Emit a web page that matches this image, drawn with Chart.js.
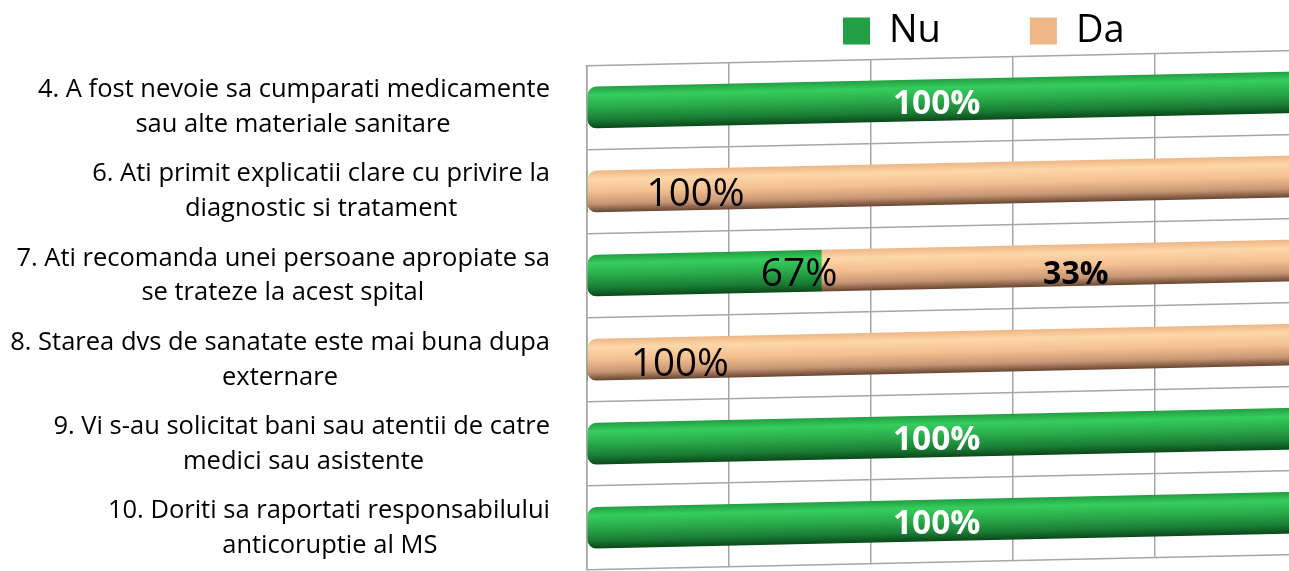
<!DOCTYPE html>
<html>
<head>
<meta charset="utf-8">
<script src="https://cdn.jsdelivr.net/npm/chart.js@4.4.1/dist/chart.umd.min.js"></script>
<style>
  html, body { margin: 0; padding: 0; background: #ffffff; overflow: hidden; }
  #wrap { position: relative; width: 1289px; height: 571px; overflow: hidden; }
  canvas { display: block; }
</style>
</head>
<body>
<div id="wrap"><canvas id="chart" width="1297" height="571"></canvas></div>
<script>
// ---------- data ----------
const categories = [
  ["4. A fost nevoie sa cumparati medicamente", "sau alte materiale sanitare"],
  ["6. Ati primit explicatii clare cu privire la", "diagnostic si tratament"],
  ["7. Ati recomanda unei persoane apropiate sa", "se trateze la acest spital"],
  ["8. Starea dvs de sanatate este mai buna dupa", "externare"],
  ["9. Vi s-au solicitat bani sau atentii de catre", "medici sau asistente"],
  ["10. Doriti sa raportati responsabilului", "anticoruptie al MS"]
];
const seriesNames = ["Nu", "Da"];
const nuValues = [100, 0, 33, 0, 100, 100];
const daValues = [0, 100, 67, 100, 0, 0];
const nuLabels = ["100%", "", "67%", "", "100%", "100%"];
const daLabels = ["", "100%", "33%", "100%", "", ""];
const xTicks = [0, 20, 40, 60, 80, 100];

// ---------- styling ----------
const FONT = "'Open Sans'";
const GRID = "#a6a6a6";
const BAR_T = 41;
const Y_FONT_SIZE = 25.5;
const SKEW = -0.0215;           // 3-D perspective tilt of the plot
const greenStops = [[0, "#23a043"], [0.2, "#36cd5e"], [0.5, "#29aa49"], [0.8, "#1a7d35"], [1, "#0b4a1a"]];
const peachStops = [[0, "#efb786"], [0.2, "#fdd7a8"], [0.5, "#f4c090"], [0.8, "#c89674"], [1, "#6a4833"]];

// center the lines of each multi-line y label within its own block
const mctx = document.createElement("canvas").getContext("2d");
mctx.font = Y_FONT_SIZE + "px " + FONT;
const spW = mctx.measureText(" ").width;
const yLabels = categories.map(lines => {
  const w0 = Math.max(...lines.map(l => mctx.measureText(l).width));
  return lines.map(l => l + " ".repeat(Math.round((w0 - mctx.measureText(l).width) / 2 / spW)));
});

function cylinder(stops, solid) {
  return function (c) {
    const chart = c.chart;
    if (c.dataIndex === undefined || !chart.chartArea || !chart.scales.y) return solid;
    const yc = chart.scales.y.getPixelForValue(c.dataIndex);
    const g = chart.ctx.createLinearGradient(0, yc - BAR_T / 2, 0, yc + BAR_T / 2);
    stops.forEach(s => g.addColorStop(s[0], s[1]));
    return g;
  };
}
const leftRound = { topLeft: 9, bottomLeft: 9, topRight: 0, bottomRight: 0 };

const labelLayout = [
  [
    { color: "#fff", weight: "bold", size: 33.5, at: 0.492, dy: 2.5 },
    null,
    { color: "#000", weight: "normal", size: 39, at: 0.905, dy: 1 },
    null,
    { color: "#fff", weight: "bold", size: 33.5, at: 0.492, dy: 1.5 },
    { color: "#fff", weight: "bold", size: 33.5, at: 0.492, dy: 1.5 }
  ],
  [
    null,
    { color: "#000", weight: "normal", size: 38.5, at: 0.152, dy: 2.5 },
    { color: "#000", weight: "bold", size: 32, at: 0.535, dy: 7 },
    { color: "#000", weight: "normal", size: 38.5, at: 0.13, dy: 4 },
    null,
    null
  ]
];
const labelTexts = [nuLabels, daLabels];

// tilt grid + bars, then draw value labels upright
const perspective = {
  id: "perspective",
  beforeLayout(chart) {
    if (chart.legend) {
      chart.legend._layers = () => [{ z: 5, draw: ca => chart.legend.draw(ca) }];
    }
  },
  afterLayout(chart) {
    if (chart.legend) {
      chart.legend.left = 833;
      chart.legend.top = 2;
    }
  },
  beforeDraw(chart) {
    const ctx = chart.ctx;
    ctx.save();
    ctx.transform(1, SKEW, 0, 1, 0, -SKEW * chart.chartArea.left);
  },
  afterDatasetsDraw(chart) {
    const ctx = chart.ctx;
    ctx.restore();
    const x0 = chart.chartArea.left;
    labelTexts.forEach((texts, di) => {
      const meta = chart.getDatasetMeta(di);
      meta.data.forEach((bar, i) => {
        const t = texts[i], st = labelLayout[di][i];
        if (!t || !st) return;
        const p = bar.getProps(["x", "base", "y"], true);
        const px = p.base + (p.x - p.base) * st.at;
        const py = p.y + SKEW * (px - x0) + st.dy;
        ctx.save();
        ctx.font = st.weight + " " + st.size + "px " + FONT;
        ctx.fillStyle = st.color;
        ctx.textAlign = "center";
        ctx.textBaseline = "alphabetic";
        ctx.fillText(t, px, py + 0.357 * st.size);
        ctx.restore();
      });
    });
  }
};

const LEGEND_X = 843;
const LEG_FONT = 38;
mctx.font = LEG_FONT + "px " + FONT;
const legSp = Math.max(0, Math.round((1030 - LEGEND_X - 27 - LEG_FONT / 2 - mctx.measureText(seriesNames[0]).width - 10) / mctx.measureText(" ").width));

Chart.defaults.font.family = FONT;
Chart.defaults.color = "#000";

new Chart(document.getElementById("chart"), {
  type: "bar",
  data: {
    labels: categories,
    datasets: [
      {
        label: seriesNames[0],
        data: nuValues,
        backgroundColor: cylinder(greenStops, "#22b14c"),
        borderWidth: 0,
        borderSkipped: false,
        borderRadius: leftRound,
        barThickness: BAR_T
      },
      {
        label: seriesNames[1],
        data: daValues,
        backgroundColor: cylinder(peachStops, "#f8c291"),
        borderWidth: 0,
        borderSkipped: false,
        borderRadius: c => (c.dataIndex !== undefined && nuValues[c.dataIndex] > 0) ? 0 : leftRound,
        barThickness: BAR_T
      }
    ]
  },
  options: {
    indexAxis: "y",
    responsive: false,
    animation: false,
    devicePixelRatio: 1,
    layout: { padding: { top: 15.5, left: 0, right: 0, bottom: 1 } },
    scales: {
      x: {
        stacked: true,
        min: 0,
        max: 100,
        afterBuildTicks: s => { s.ticks = xTicks.map(v => ({ value: v })); },
        ticks: { display: false },
        grid: { color: GRID, lineWidth: 1.5, drawTicks: false },
        border: { display: false }
      },
      y: {
        stacked: true,
        afterFit: s => { s.width = 587; s.paddingTop = 0; s.paddingBottom = 0; },
        grid: { color: GRID, lineWidth: 1.5, drawTicks: false, offset: true },
        border: { display: true, color: GRID, width: 1.5 },
        ticks: {
          z: 1,
          color: "#000",
          padding: 37,
          font: { family: FONT, size: Y_FONT_SIZE, lineHeight: 1.37 },
          callback: (v, i) => yLabels[i]
        }
      }
    },
    plugins: {
      tooltip: { enabled: false },
      legend: {
        position: "top",
        align: "start",
        maxHeight: 50,
        labels: {
          boxWidth: 27,
          boxHeight: 27,
          padding: 10,
          color: "#000",
          font: { family: FONT, size: LEG_FONT },
          generateLabels: chart => {
            const items = Chart.defaults.plugins.legend.labels.generateLabels(chart);
            items[0].text = items[0].text + " ".repeat(legSp);
            return items;
          }
        }
      }
    }
  },
  plugins: [perspective]
});
</script>
</body>
</html>
